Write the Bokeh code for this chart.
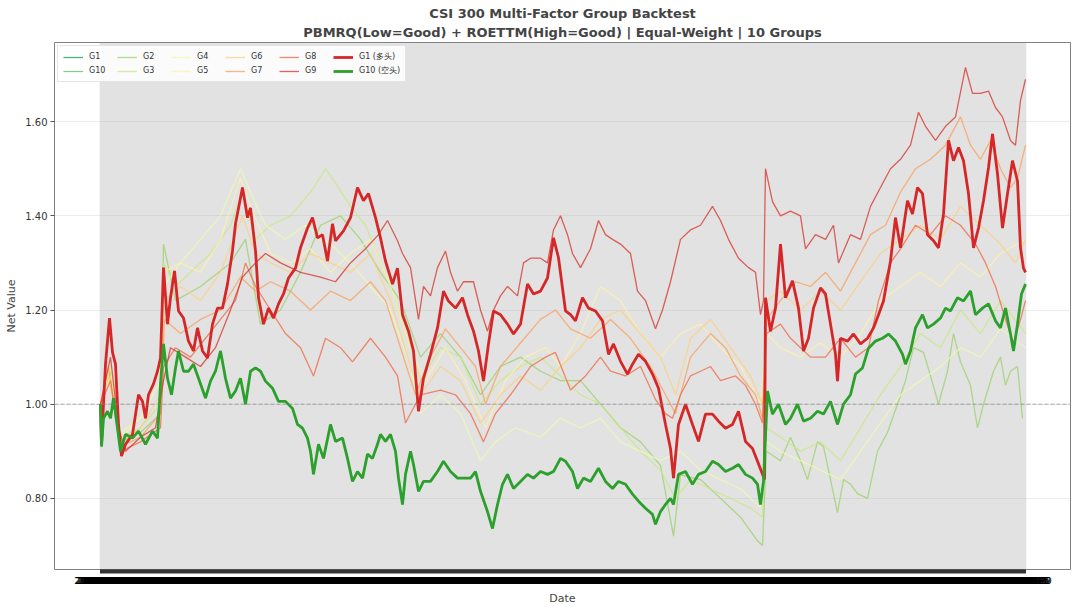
import pandas as pd
from bokeh.plotting import figure
from bokeh.models import (Range1d, FixedTicker, CustomJSTickFormatter, Span, Legend,
                          LegendItem, Title, NumeralTickFormatter)
from bokeh.embed import file_html
from bokeh.resources import INLINE

# ---------------- data ----------------
N_DAYS = 926
DATES = [d.strftime("%Y-%m-%d") for d in pd.bdate_range(end="2025-09-30", periods=N_DAYS)]
Y_TICKS = [0.8, 1.0, 1.2, 1.4, 1.6]

GROUP_NAMES = ["G1", "G10", "G2", "G3", "G4", "G5", "G6", "G7", "G8", "G9"]
GROUP_COLORS = ["#1a9850", "#5eb961", "#98d268", "#c8e880", "#effaad",
                "#fef2a9", "#fdcf7d", "#fb9d5a", "#f16640", "#d73027"]

# (trading-day index, net value)
G1_PTS = [(0, 1.00), (1, 0.915), (5, 1.085), (9, 1.183), (12, 1.11), (15, 1.085), (18, 0.957),
          (21, 0.89), (25, 0.915), (32, 0.936), (38, 1.02), (42, 1.006), (45, 0.97), (48, 1.02),
          (53, 1.043), (57, 1.07), (60, 1.098), (63, 1.29), (67, 1.17), (70, 1.226), (74, 1.283),
          (78, 1.198), (83, 1.183), (88, 1.134), (93, 1.113), (97, 1.162), (102, 1.113),
          (107, 1.098), (112, 1.17), (117, 1.204), (122, 1.204), (127, 1.255), (132, 1.326),
          (135, 1.383), (142, 1.46), (147, 1.396), (150, 1.417), (155, 1.326), (158, 1.226),
          (163, 1.17), (168, 1.204), (173, 1.183), (178, 1.213), (183, 1.234), (188, 1.268),
          (195, 1.289), (200, 1.332), (207, 1.374), (212, 1.396), (217, 1.353), (222, 1.36),
          (227, 1.304), (232, 1.383), (235, 1.347), (243, 1.368), (250, 1.396), (257, 1.46),
          (263, 1.432), (268, 1.447), (275, 1.396), (280, 1.353), (285, 1.304), (292, 1.255),
          (297, 1.289), (302, 1.19), (308, 1.155), (313, 1.113), (318, 0.985), (323, 1.055),
          (330, 1.106), (337, 1.162), (343, 1.24), (348, 1.219), (355, 1.204), (362, 1.226),
          (367, 1.19), (373, 1.155), (378, 1.113), (383, 1.049), (388, 1.128), (393, 1.198),
          (400, 1.19), (407, 1.17), (413, 1.149), (420, 1.17), (427, 1.255), (433, 1.234),
          (440, 1.24), (447, 1.268), (453, 1.353), (458, 1.311), (465, 1.198), (470, 1.19),
          (475, 1.177), (482, 1.226), (488, 1.204), (495, 1.198), (502, 1.177), (508, 1.106),
          (513, 1.128), (520, 1.091), (527, 1.064), (532, 1.085), (538, 1.106), (545, 1.091),
          (552, 1.064), (558, 1.034), (565, 0.957), (570, 0.906), (573, 0.843), (578, 0.957),
          (585, 1.0), (592, 0.957), (598, 0.921), (605, 0.979), (612, 0.979), (618, 0.964),
          (625, 0.949), (632, 0.957), (638, 0.985), (645, 0.921), (652, 0.906), (657, 0.879),
          (662, 0.851), (664, 0.84), (665, 1.226), (670, 1.155), (675, 1.204), (680, 1.34),
          (685, 1.226), (692, 1.262), (698, 1.204), (703, 1.113), (708, 1.14), (713, 1.204),
          (720, 1.247), (725, 1.234), (730, 1.17), (735, 1.106), (737, 1.049), (740, 1.14),
          (747, 1.134), (753, 1.149), (760, 1.128), (767, 1.14), (773, 1.162), (778, 1.19),
          (783, 1.219), (790, 1.304), (795, 1.396), (800, 1.332), (807, 1.432), (812, 1.404),
          (817, 1.46), (822, 1.447), (827, 1.36), (833, 1.347), (838, 1.332), (843, 1.404),
          (848, 1.56), (853, 1.517), (858, 1.545), (863, 1.517), (868, 1.447), (873, 1.332),
          (878, 1.374), (883, 1.432), (888, 1.502), (892, 1.574), (897, 1.489), (902, 1.374),
          (907, 1.447), (912, 1.517), (917, 1.474), (920, 1.332), (923, 1.289), (925, 1.28)]

G10_PTS = [(0, 1.00), (1, 0.91), (3, 0.97), (7, 0.985), (10, 0.97), (13, 1.013), (17, 0.949),
           (20, 0.90), (25, 0.936), (32, 0.928), (38, 0.943), (45, 0.915), (52, 0.943),
           (57, 0.928), (60, 1.043), (63, 1.128), (67, 1.055), (71, 1.02), (75, 1.077),
           (78, 1.113), (83, 1.07), (88, 1.07), (93, 1.085), (98, 1.055), (105, 1.013),
           (110, 1.049), (115, 1.07), (120, 1.113), (125, 1.055), (130, 1.013), (135, 1.028),
           (140, 1.055), (145, 1.0), (150, 1.07), (155, 1.077), (160, 1.07), (165, 1.049),
           (172, 1.034), (178, 1.006), (185, 1.006), (192, 0.991), (197, 0.957), (202, 0.949),
           (207, 0.928), (210, 0.90), (213, 0.851), (218, 0.915), (223, 0.885), (230, 0.957),
           (235, 0.921), (242, 0.928), (247, 0.885), (252, 0.836), (257, 0.857), (262, 0.843),
           (267, 0.894), (272, 0.885), (277, 0.915), (280, 0.936), (285, 0.921), (290, 0.936),
           (295, 0.90), (298, 0.843), (302, 0.787), (305, 0.851), (310, 0.90), (313, 0.872),
           (318, 0.815), (323, 0.836), (330, 0.836), (337, 0.857), (343, 0.879), (350, 0.857),
           (357, 0.843), (363, 0.843), (370, 0.843), (375, 0.857), (380, 0.815), (387, 0.772),
           (392, 0.736), (397, 0.787), (402, 0.83), (407, 0.851), (413, 0.821), (420, 0.836),
           (427, 0.851), (433, 0.843), (440, 0.857), (447, 0.851), (453, 0.857), (460, 0.885),
           (465, 0.879), (472, 0.857), (477, 0.821), (483, 0.843), (490, 0.836), (498, 0.864),
           (505, 0.836), (512, 0.821), (518, 0.836), (525, 0.83), (532, 0.809), (538, 0.794),
           (545, 0.779), (552, 0.766), (555, 0.745), (560, 0.772), (565, 0.787), (570, 0.80),
           (573, 0.787), (578, 0.851), (585, 0.857), (592, 0.83), (598, 0.851), (605, 0.857),
           (612, 0.879), (618, 0.872), (625, 0.857), (632, 0.864), (638, 0.872), (645, 0.851),
           (652, 0.843), (657, 0.83), (660, 0.787), (663, 0.836), (667, 1.028), (672, 0.979),
           (678, 1.0), (685, 0.957), (690, 0.97), (697, 1.0), (703, 0.964), (710, 0.97),
           (717, 0.985), (723, 0.979), (730, 1.006), (737, 0.957), (743, 1.0), (750, 1.02),
           (755, 1.064), (762, 1.077), (768, 1.119), (775, 1.134), (782, 1.14), (788, 1.149),
           (795, 1.134), (802, 1.106), (805, 1.085), (810, 1.113), (815, 1.162), (822, 1.19),
           (827, 1.162), (833, 1.17), (840, 1.183), (845, 1.204), (850, 1.198), (857, 1.226),
           (863, 1.219), (870, 1.24), (875, 1.19), (882, 1.204), (888, 1.213), (895, 1.177),
           (900, 1.162), (905, 1.204), (910, 1.149), (913, 1.113), (917, 1.17), (921, 1.234),
           (925, 1.255)]

G2_PTS = [(0, 1.0), (10, 1.07), (20, 0.92), (40, 0.94), (60, 0.98), (63, 1.34), (75, 1.22),
          (100, 1.25), (130, 1.30), (145, 1.35), (160, 1.17), (180, 1.20), (200, 1.28),
          (220, 1.38), (240, 1.40), (260, 1.35), (280, 1.28), (300, 1.22), (320, 1.10),
          (340, 1.15), (360, 1.10), (380, 1.02), (400, 1.08), (420, 1.10), (440, 1.07),
          (460, 1.05), (480, 1.05), (500, 1.00), (520, 0.95), (540, 0.92), (560, 0.87),
          (573, 0.72), (580, 0.85), (600, 0.84), (620, 0.80), (640, 0.76), (657, 0.71),
          (662, 0.70), (666, 0.90), (680, 0.88), (690, 0.93), (700, 0.88), (707, 0.84),
          (717, 0.92), (723, 0.91), (737, 0.77), (743, 0.84), (750, 0.83), (757, 0.81),
          (767, 0.80), (777, 0.90), (787, 0.94), (797, 1.00), (805, 1.05), (813, 1.12),
          (823, 1.11), (830, 1.06), (838, 1.00), (847, 1.07), (853, 1.15), (860, 1.09),
          (870, 1.04), (877, 0.95), (883, 1.00), (893, 1.07), (900, 1.10), (905, 1.04),
          (910, 1.07), (917, 1.08), (922, 0.97)]

G3_PTS = [(0, 1.0), (10, 1.08), (20, 0.93), (40, 0.95), (60, 1.0), (63, 1.30), (75, 1.25),
          (90, 1.28), (110, 1.32), (130, 1.38), (142, 1.45), (155, 1.35), (170, 1.38),
          (190, 1.40), (210, 1.45), (225, 1.50), (235, 1.47), (250, 1.42), (265, 1.38),
          (280, 1.30), (295, 1.22), (310, 1.12), (320, 1.05), (340, 1.12), (360, 1.10),
          (380, 1.00), (400, 1.05), (420, 1.08), (440, 1.10), (460, 1.06), (480, 1.02),
          (500, 1.0), (520, 0.95), (540, 0.90), (560, 0.86), (575, 0.80), (590, 0.84),
          (610, 0.82), (630, 0.80), (650, 0.78), (662, 0.76), (666, 0.95), (680, 0.93),
          (700, 0.90), (720, 0.92), (740, 0.88), (760, 0.95), (780, 1.02), (800, 1.08),
          (820, 1.15), (840, 1.12), (860, 1.20), (880, 1.15), (900, 1.22), (925, 1.15)]

G4_PTS = [(0, 1.0), (10, 1.06), (20, 0.94), (40, 0.97), (60, 1.05), (63, 1.25), (80, 1.30),
          (100, 1.35), (120, 1.40), (140, 1.50), (150, 1.45), (165, 1.38), (185, 1.35),
          (205, 1.38), (230, 1.34), (250, 1.30), (270, 1.25), (290, 1.20), (310, 1.08),
          (320, 0.98), (340, 1.02), (360, 0.98), (380, 0.88), (395, 0.92), (415, 0.95),
          (440, 0.93), (460, 0.97), (480, 0.95), (500, 0.97), (520, 0.92), (540, 0.90),
          (560, 0.88), (580, 0.90), (600, 0.86), (620, 0.84), (640, 0.82), (660, 0.78),
          (666, 0.92), (680, 0.90), (700, 0.88), (720, 0.86), (740, 0.84), (760, 0.90),
          (780, 0.96), (800, 1.02), (820, 1.05), (840, 1.08), (860, 1.12), (880, 1.10),
          (900, 1.16), (925, 1.12)]

G5_PTS = [(0, 1.0), (10, 1.08), (20, 0.93), (40, 0.97), (60, 1.08), (63, 1.28), (80, 1.30),
          (100, 1.28), (120, 1.35), (140, 1.48), (150, 1.42), (170, 1.32), (190, 1.30),
          (210, 1.33), (230, 1.28), (250, 1.32), (270, 1.35), (290, 1.25), (310, 1.12),
          (325, 1.05), (345, 1.12), (365, 1.05), (385, 0.95), (405, 1.05), (425, 1.10),
          (445, 1.12), (460, 1.08), (480, 1.15), (500, 1.25), (520, 1.22), (540, 1.15),
          (560, 1.10), (580, 1.15), (600, 1.17), (620, 1.12), (640, 1.08), (660, 1.00),
          (666, 1.15), (680, 1.12), (700, 1.10), (720, 1.13), (740, 1.10), (760, 1.15),
          (780, 1.22), (800, 1.25), (820, 1.28), (840, 1.25), (860, 1.30), (880, 1.27),
          (900, 1.32), (925, 1.35)]

G6_PTS = [(0, 1.0), (8, 1.06), (20, 0.92), (40, 0.95), (60, 1.02), (64, 1.22), (80, 1.25),
          (100, 1.22), (120, 1.28), (142, 1.40), (155, 1.32), (170, 1.30), (190, 1.28),
          (210, 1.32), (230, 1.30), (250, 1.28), (270, 1.32), (290, 1.22), (310, 1.08),
          (320, 1.02), (340, 1.08), (360, 1.05), (380, 0.96), (400, 1.02), (420, 1.06),
          (440, 1.03), (460, 1.08), (480, 1.12), (500, 1.18), (520, 1.20), (540, 1.15),
          (560, 1.10), (575, 1.02), (590, 1.14), (610, 1.18), (630, 1.12), (650, 1.06),
          (662, 1.00), (666, 1.22), (680, 1.24), (700, 1.20), (720, 1.24), (740, 1.20),
          (760, 1.26), (780, 1.32), (800, 1.35), (820, 1.38), (840, 1.35), (860, 1.42),
          (880, 1.38), (900, 1.34), (915, 1.30), (925, 1.35)]

G7_PTS = [(0, 1.0), (8, 1.08), (20, 0.91), (40, 0.93), (60, 0.98), (64, 1.18), (80, 1.15),
          (100, 1.18), (120, 1.20), (140, 1.27), (155, 1.24), (170, 1.26), (190, 1.24),
          (210, 1.20), (230, 1.24), (250, 1.22), (270, 1.26), (285, 1.22), (300, 1.12),
          (315, 1.02), (330, 1.10), (345, 1.16), (360, 1.12), (375, 1.08), (385, 1.00),
          (400, 1.08), (420, 1.13), (440, 1.18), (455, 1.20), (470, 1.16), (490, 1.14),
          (510, 1.18), (530, 1.14), (550, 1.08), (565, 1.02), (575, 0.98), (590, 1.10),
          (610, 1.15), (625, 1.12), (640, 1.06), (655, 1.02), (662, 0.97), (666, 1.18),
          (680, 1.22), (695, 1.26), (710, 1.25), (725, 1.28), (740, 1.24), (755, 1.30),
          (770, 1.36), (785, 1.38), (800, 1.45), (815, 1.50), (830, 1.52), (845, 1.55),
          (860, 1.61), (870, 1.55), (880, 1.52), (890, 1.56), (900, 1.50), (910, 1.46),
          (917, 1.48), (925, 1.55)]

G8_PTS = [(0, 1.0), (10, 1.05), (20, 0.90), (40, 0.92), (60, 0.95), (63, 1.08), (75, 1.12),
          (90, 1.10), (105, 1.14), (120, 1.18), (135, 1.22), (145, 1.30), (155, 1.25),
          (170, 1.20), (185, 1.15), (200, 1.12), (213, 1.06), (225, 1.14), (240, 1.12),
          (252, 1.09), (270, 1.14), (285, 1.10), (297, 1.06), (305, 0.96), (320, 1.02),
          (340, 1.03), (355, 1.02), (370, 0.98), (383, 0.92), (395, 0.98), (410, 1.02),
          (430, 1.08), (445, 1.10), (455, 1.11), (470, 1.03), (485, 1.06), (500, 1.10),
          (510, 1.07), (525, 1.06), (540, 1.08), (555, 1.01), (565, 0.98), (572, 0.97),
          (580, 1.02), (590, 1.06), (600, 1.07), (610, 1.08), (620, 1.05), (635, 1.06),
          (645, 1.04), (655, 1.00), (662, 0.96), (666, 1.15), (680, 1.17), (690, 1.14),
          (700, 1.12), (710, 1.10), (725, 1.10), (740, 1.14), (755, 1.10), (768, 1.12),
          (778, 1.22), (790, 1.30), (800, 1.33), (815, 1.38), (830, 1.36), (845, 1.40),
          (860, 1.38), (875, 1.34), (885, 1.30), (895, 1.25), (905, 1.18), (913, 1.13),
          (920, 1.18), (925, 1.22)]

G9_PTS = [(0, 1.00), (5, 1.05), (10, 1.10), (18, 0.95), (25, 0.90), (40, 0.93), (55, 0.95),
          (63, 1.05), (70, 1.12), (85, 1.10), (100, 1.08), (115, 1.12), (130, 1.20),
          (142, 1.27), (155, 1.30), (165, 1.32), (180, 1.30), (200, 1.28), (220, 1.27),
          (235, 1.26), (250, 1.30), (265, 1.33), (278, 1.36), (287, 1.39), (297, 1.347),
          (302, 1.32), (310, 1.29), (318, 1.18), (323, 1.25), (330, 1.23), (337, 1.29),
          (345, 1.325), (350, 1.28), (357, 1.24), (363, 1.26), (373, 1.26), (380, 1.20),
          (387, 1.155), (393, 1.20), (400, 1.23), (407, 1.25), (417, 1.23), (423, 1.30),
          (430, 1.31), (440, 1.31), (447, 1.30), (453, 1.37), (460, 1.40), (467, 1.36),
          (472, 1.32), (480, 1.29), (490, 1.33), (498, 1.39), (505, 1.36), (512, 1.35),
          (520, 1.34), (530, 1.32), (537, 1.24), (545, 1.22), (555, 1.16), (562, 1.20),
          (570, 1.26), (580, 1.35), (590, 1.37), (600, 1.38), (612, 1.42), (620, 1.39),
          (628, 1.35), (638, 1.31), (648, 1.29), (655, 1.28), (660, 1.19), (663, 1.22),
          (665, 1.50), (672, 1.43), (680, 1.40), (690, 1.41), (700, 1.40), (705, 1.33),
          (715, 1.36), (725, 1.35), (733, 1.38), (738, 1.30), (750, 1.36), (760, 1.35),
          (770, 1.42), (780, 1.46), (790, 1.50), (800, 1.52), (810, 1.55), (818, 1.62),
          (825, 1.59), (835, 1.56), (845, 1.59), (855, 1.61), (865, 1.715), (872, 1.66),
          (880, 1.66), (888, 1.665), (895, 1.63), (902, 1.61), (910, 1.56), (915, 1.55),
          (920, 1.645), (925, 1.69)]

SERIES = {"G1": G1_PTS, "G10": G10_PTS, "G2": G2_PTS, "G3": G3_PTS, "G4": G4_PTS,
          "G5": G5_PTS, "G6": G6_PTS, "G7": G7_PTS, "G8": G8_PTS, "G9": G9_PTS}

TITLE_1 = "CSI 300 Multi-Factor Group Backtest"
TITLE_2 = "PBMRQ(Low=Good) + ROETTM(High=Good) | Equal-Weight | 10 Groups"
LONG_LABEL = "G1 (多头)"
SHORT_LABEL = "G10 (空头)"

# ---------------- figure ----------------
FONT = "DejaVu Sans"
p = figure(width=1072, height=607, output_backend="svg", toolbar_location=None,
           x_range=Range1d(-46, 970), y_range=Range1d(0.649, 1.768),
           min_border_left=54, min_border_right=2, min_border_top=42, min_border_bottom=0)
p.title = None
t2 = Title(text=TITLE_2, align="center", text_font=FONT, text_font_size="13px",
           text_font_style="bold", standoff=5, offset=0)
t1 = Title(text=TITLE_1, align="center", text_font=FONT, text_font_size="13px",
           text_font_style="bold", standoff=0, offset=0)
p.add_layout(t2, "above")
p.add_layout(t1, "above")

p.background_fill_color = "white"
p.border_fill_color = "white"
p.outline_line_color = "#808080"
p.outline_line_width = 1

# x axis: one tick per trading day, labelled with its date
day_ticks = list(range(N_DAYS))
p.xaxis.ticker = FixedTicker(ticks=day_ticks)
p.xaxis.formatter = CustomJSTickFormatter(args=dict(dates=DATES),
                                          code="const i = Math.round(tick); return dates[i] || '';")
p.xaxis.major_label_text_font = FONT
p.xaxis.major_label_text_font_size = "9px"
p.xaxis.major_label_text_color = "black"
p.xaxis.major_label_standoff = 3
p.xaxis.major_tick_out = 4
p.xaxis.major_tick_in = 0
p.xaxis.major_tick_line_color = "black"
p.xaxis.major_tick_line_width = 0.8
p.xaxis.minor_tick_line_color = None
p.xaxis.axis_line_color = None
p.xaxis.axis_label = "Date"
p.xaxis.axis_label_text_font = FONT
p.xaxis.axis_label_text_font_size = "11px"
p.xaxis.axis_label_text_font_style = "normal"
p.xaxis.axis_label_standoff = 5

p.yaxis.ticker = FixedTicker(ticks=Y_TICKS)
p.yaxis.formatter = NumeralTickFormatter(format="0.00")
p.yaxis.major_label_text_font = FONT
p.yaxis.major_label_text_font_size = "10px"
p.yaxis.major_label_text_color = "#333333"
p.yaxis.major_label_standoff = 3
p.yaxis.major_tick_out = 4
p.yaxis.major_tick_in = 0
p.yaxis.major_tick_line_color = "#555555"
p.yaxis.minor_tick_line_color = None
p.yaxis.axis_line_color = None
p.yaxis.axis_label = "Net Value"
p.yaxis.axis_label_text_font = FONT
p.yaxis.axis_label_text_font_size = "11px"
p.yaxis.axis_label_text_font_style = "normal"
p.yaxis.axis_label_standoff = 4

p.xgrid.ticker = FixedTicker(ticks=day_ticks)
p.xgrid.grid_line_color = "#b0b0b0"
p.xgrid.grid_line_alpha = 0.36
p.xgrid.grid_line_width = 1.6
p.ygrid.grid_line_color = "#b0b0b0"
p.ygrid.grid_line_alpha = 0.3
p.ygrid.grid_line_width = 0.8

p.add_layout(Span(location=1.0, dimension="width", line_color="#808080",
                  line_dash="4 2", line_width=0.8, line_alpha=0.8))

items = []
for name, color in zip(GROUP_NAMES, GROUP_COLORS):
    pts = SERIES[name]
    r = p.line([d for d, v in pts], [v for d, v in pts], line_color=color,
               line_width=1.3, line_alpha=0.75)
    items.append(LegendItem(label=name, renderers=[r]))

r_long = p.line([d for d, v in G1_PTS], [v for d, v in G1_PTS], line_color="#d62728",
                line_width=2.8)
r_short = p.line([d for d, v in G10_PTS], [v for d, v in G10_PTS], line_color="#2ca02c",
                 line_width=2.8)
items.append(LegendItem(label=LONG_LABEL, renderers=[r_long]))
items.append(LegendItem(label=SHORT_LABEL, renderers=[r_short]))

legend = Legend(items=items, location="top_left", ncols=6, orientation="vertical",
                label_text_font=FONT, label_text_font_size="8px", label_text_color="#333333",
                glyph_width=20, glyph_height=10, label_standoff=6, label_width=25,
                label_height=10, spacing=3, padding=5, margin=3,
                border_line_color="#cccccc", border_line_width=1,
                background_fill_color="white", background_fill_alpha=0.85)
p.add_layout(legend)

open("out.html", "w").write(file_html(p, INLINE))
